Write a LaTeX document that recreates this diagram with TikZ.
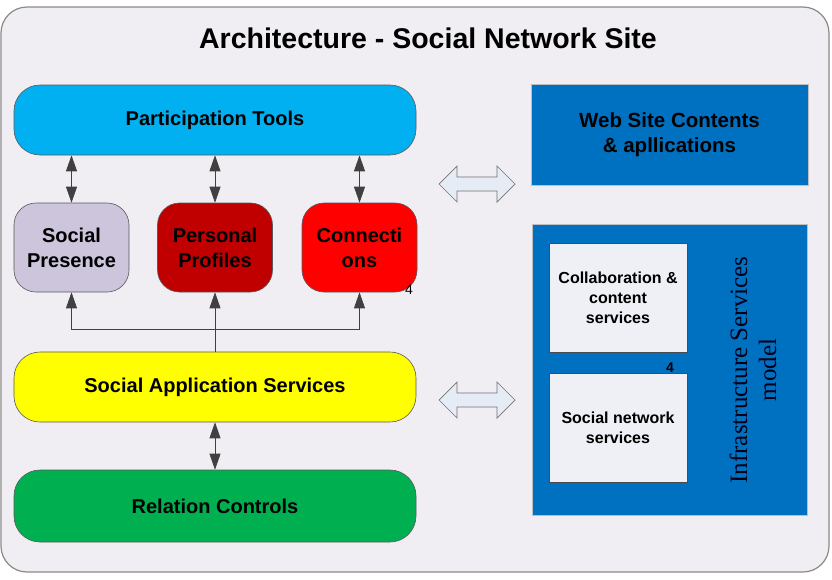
\documentclass[tikz,border=0pt]{standalone}
\usepackage{fontspec}
\setmainfont{Liberation Sans}
\newfontfamily\serifb{Liberation Serif}
\usetikzlibrary{arrows.meta,positioning,calc}
\definecolor{bgc}{HTML}{F0EDF3}
\definecolor{framec}{HTML}{8A8A8A}
\definecolor{cyanc}{HTML}{00B0F0}
\definecolor{lavc}{HTML}{CCC5DB}
\definecolor{dredc}{HTML}{C00000}
\definecolor{redc}{HTML}{FF0000}
\definecolor{yelc}{HTML}{FFFF00}
\definecolor{grnc}{HTML}{00B050}
\definecolor{bluec}{HTML}{0070C0}
\definecolor{innerc}{HTML}{EEF0F6}
\definecolor{barrowc}{HTML}{E6ECF6}
\tikzset{
  wide/.style={draw=black!65, line width=0.6pt, rounded corners=26pt, minimum width=402pt, minimum height=70pt, font=\bfseries\fontsize{20}{24}\selectfont, inner sep=0pt},
  small/.style={draw=black!65, line width=0.6pt, rounded corners=22pt, minimum width=115pt, minimum height=89pt, font=\bfseries\fontsize{20}{25}\selectfont, align=center, inner sep=0pt},
  bluebox/.style={draw=black!25, line width=0.6pt, fill=bluec, inner sep=0pt},
  whitebox/.style={draw=black!70, line width=0.6pt, fill=innerc, minimum width=138pt, minimum height=109pt, font=\bfseries\fontsize{16}{20}\selectfont, align=center, inner sep=0pt},
  conn/.style={draw=black!75, line width=0.7pt},
  tip/.style={-{Triangle[length=16pt,width=11pt]}},
  bitip/.style={{Triangle[length=16pt,width=11pt]}-{Triangle[length=16pt,width=11pt]}},
  blockarrow/.style={draw=black!55, line width=0.7pt, fill=barrowc, line join=miter},
  numlbl/.style={font=\fontsize{14}{14}\selectfont, inner sep=0pt}
}
\begin{document}
\begin{tikzpicture}[x=1pt,y=-1pt]
\useasboundingbox (0,0) rectangle (832,579);
\fill[white] (0,0) rectangle (832,579);
% frame
\draw[draw=framec, line width=1.2pt, fill=bgc, rounded corners=26pt] (1,7) rectangle (829,572);
\node[font=\bfseries\fontsize{28.5}{32}\selectfont] (title) at (428,38) {Architecture - Social Network Site};

% left column
\node[wide, fill=cyanc] (pt) at (215,120) {Participation Tools};
\node[small, fill=lavc] (sp) at (71.5,247.5) {Social\\Presence};
\node[small, fill=dredc] (pp) at (215,247.5) {Personal\\Profiles};
\node[small, fill=redc] (co) at (359.5,247.5) {Connecti\\ons};
\node[numlbl] (n1) at (409,290) {4};
\node[wide, fill=yelc] (sas) at (215,387) {Social Application Services};
\node[wide, fill=grnc, minimum height=72pt] (rc) at (215,506) {Relation Controls};

\draw[conn, bitip] (sp.north |- pt.south) -- (sp.north);
\draw[conn, bitip] (pt.south) -- (pp.north);
\draw[conn, bitip] (co.north |- pt.south) -- (co.north);
\coordinate (j) at (215,329);
\draw[conn, tip] (sas.north) -- (pp.south);
\draw[conn, tip] (j) -| (sp.south);
\draw[conn, tip] (j) -| (co.south);
\draw[conn, bitip] (sas.south) -- (rc.north);

% right column
\node[bluebox, minimum width=277pt, minimum height=101pt, font=\bfseries\fontsize{20.5}{25}\selectfont, align=center] (wsc) at (669.5,134.5) {Web Site Contents\\\& apllications};
\node[bluebox, minimum width=275pt, minimum height=291pt] (ism) at (669.5,369.5) {};
\node[whitebox] (cc) at (618,297.5) {Collaboration \&\\content\\services};
\node[whitebox] (sns) at (618,427.5) {Social network\\services};
\node[numlbl, font=\bfseries\fontsize{14}{14}\selectfont] (n2) at (670,368) {4};
\node[rotate=90, font=\serifb\fontsize{25}{29}\selectfont, align=center, text=black!90!blue] (ismt) at (753,370) {Infrastructure Services\\model};

% block double arrows
\foreach \nm/\cy in {ba1/184, ba2/400}{
  \coordinate (\nm) at (477,\cy);
  \draw[blockarrow] ($(\nm)+(-38,0)$) -- ++(18,-18) -- ++(0,11) -- ++(40,0) -- ++(0,-11) -- ++(18,18) -- ++(-18,18) -- ++(0,-11) -- ++(-40,0) -- ++(0,11) -- cycle;
}
\end{tikzpicture}
\end{document}
